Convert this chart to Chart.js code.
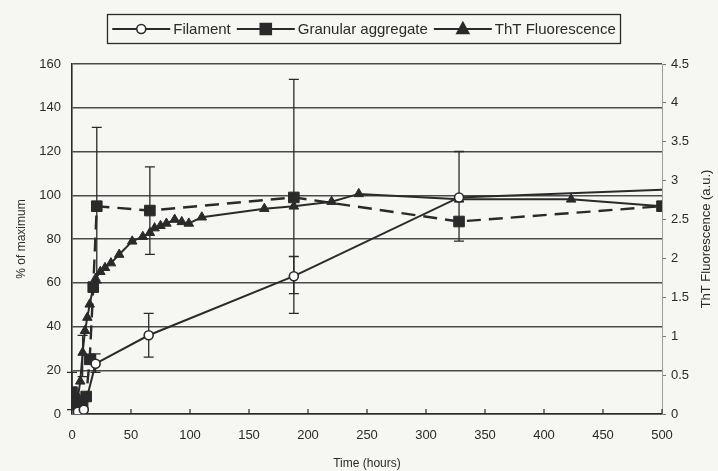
<!DOCTYPE html>
<html>
<head>
<meta charset="utf-8">
<script src="https://cdn.jsdelivr.net/npm/chart.js@4.4.1/dist/chart.umd.min.js"></script>
<style>
  html, body { margin: 0; padding: 0; background: #f6f6f3; }
  #wrap { width: 718px; height: 471px; position: relative; }
</style>
</head>
<body>
<div id="wrap"><canvas id="chart"></canvas></div>
<script>
// Filament (% of maximum)
const filamentHours = [0, 5, 10, 20, 65, 188, 328, 500];
const filamentPct = [0, 1, 2, 23, 36, 63, 99, 102.5];
const filamentErrLow = [null, null, null, 19, 26, 55, null, null];
const filamentErrHigh = [null, null, null, 27.5, 46, 72, null, null];

// Granular aggregate (% of maximum)
const granularHours = [0, 3, 6, 9, 12, 15, 18, 21, 66, 188, 328, 500];
const granularPct = [10, 5, 3, 4, 8, 25, 58, 95, 93, 99, 88, 95];
const granularErrLow = [2, null, null, null, null, null, null, 60, 73, 46, 79, null];
const granularErrHigh = [19, null, null, null, null, null, null, 131, 113, 153, 120, null];

// ThT fluorescence (a.u.)
const thtHours = [0, 3, 5, 7, 9, 11, 13, 15, 18, 20, 24, 28, 33, 40, 51, 60, 66, 70, 75, 80, 87, 93, 99, 110, 163, 188, 220, 243, 328, 423, 500];
const thtAU = [0, 0.08, 0.22, 0.42, 0.79, 1.07, 1.24, 1.41, 1.63, 1.74, 1.83, 1.88, 1.94, 2.05, 2.22, 2.28, 2.33, 2.39, 2.42, 2.45, 2.50, 2.47, 2.45, 2.53, 2.64, 2.67, 2.73, 2.83, 2.76, 2.76, 2.67];
const thtErrLow = [null, null, null, null, 0.48];
const thtErrHigh = [null, null, null, null, 1.01];

const xTicks = [0, 50, 100, 150, 200, 250, 300, 350, 400, 450, 500];

const ink = '#2a2a2a';
const font = "'Liberation Sans', Arial, sans-serif";

function points(xs, ys) {
  return xs.map((x, i) => ({ x: x, y: ys[i] }));
}

// vertical error bars, placed through the dataset's own scales
const errorBars = {
  id: 'errorBars',
  beforeDatasetsDraw(chart) {
    const ctx = chart.ctx;
    ctx.save();
    ctx.strokeStyle = ink;
    ctx.lineWidth = 1.3;
    chart.data.datasets.forEach(ds => {
      if (!ds.errLow) return;
      const xs = chart.scales.x;
      const ys = chart.scales[ds.yAxisID];
      ds.data.forEach((p, j) => {
        if (ds.errLow[j] == null) return;
        const x = xs.getPixelForValue(p.x);
        const lo = ys.getPixelForValue(ds.errLow[j]);
        const hi = ys.getPixelForValue(ds.errHigh[j]);
        ctx.beginPath();
        ctx.moveTo(x, lo); ctx.lineTo(x, hi);
        ctx.moveTo(x - 5, lo); ctx.lineTo(x + 5, lo);
        ctx.moveTo(x - 5, hi); ctx.lineTo(x + 5, hi);
        ctx.stroke();
      });
    });
    ctx.restore();
  }
};

function drawMarker(ctx, ds, x, y) {
  ctx.save();
  ctx.fillStyle = ds.pointBackgroundColor;
  ctx.strokeStyle = ds.pointBorderColor;
  ctx.lineWidth = 1.6;
  ctx.setLineDash([]);
  ctx.beginPath();
  if (ds.pointStyle === 'circle') {
    ctx.arc(x, y, 4.5, 0, Math.PI * 2);
  } else if (ds.pointStyle === 'rect') {
    ctx.rect(x - 5.5, y - 5.5, 11, 11);
  } else {
    ctx.moveTo(x, y - 6.5); ctx.lineTo(x + 6, y + 4.5); ctx.lineTo(x - 6, y + 4.5); ctx.closePath();
  }
  ctx.fill();
  ctx.stroke();
  ctx.restore();
}

// boxed legend on top, inward x ticks, right axis title
const decorations = {
  id: 'decorations',
  afterDraw(chart) {
    const ctx = chart.ctx;
    const area = chart.chartArea;
    ctx.save();

    // inward ticks on the time axis
    const xs = chart.scales.x;
    ctx.strokeStyle = ink;
    ctx.lineWidth = 1.2;
    xTicks.forEach(v => {
      const x = xs.getPixelForValue(v);
      ctx.beginPath(); ctx.moveTo(x, area.bottom); ctx.lineTo(x, area.bottom - 5); ctx.stroke();
    });

    // right axis title
    ctx.fillStyle = ink;
    ctx.font = '13px ' + font;
    ctx.textAlign = 'center';
    ctx.textBaseline = 'middle';
    ctx.translate(706, (area.top + area.bottom) / 2);
    ctx.rotate(-Math.PI / 2);
    ctx.fillText('ThT Fluorescence (a.u.)', 0, 0);
    ctx.restore();

    // legend
    ctx.save();
    ctx.font = '15px ' + font;
    ctx.textBaseline = 'middle';
    ctx.textAlign = 'left';
    const symW = 58, gap = 3, itemGap = 6;
    const items = chart.data.datasets;
    let total = 0;
    items.forEach((ds, i) => {
      total += symW + gap + ctx.measureText(ds.label).width + (i < items.length - 1 ? itemGap : 0);
    });
    const cy = 29;
    let x = 364 - total / 2;
    ctx.strokeStyle = ink;
    ctx.lineWidth = 1.3;
    ctx.strokeRect(Math.round(x - 5) + 0.5, 14.5, Math.round(total + 10), 29);
    items.forEach(ds => {
      ctx.strokeStyle = ink;
      ctx.lineWidth = 2;
      ctx.beginPath(); ctx.moveTo(x, cy); ctx.lineTo(x + symW, cy); ctx.stroke();
      drawMarker(ctx, ds, x + symW / 2, cy);
      x += symW + gap;
      ctx.fillStyle = ink;
      ctx.fillText(ds.label, x, cy + 1);
      x += ctx.measureText(ds.label).width + itemGap;
    });
    ctx.restore();
  }
};

new Chart(document.getElementById('chart'), {
  type: 'line',
  data: {
    datasets: [
      {
        label: 'Filament',
        data: points(filamentHours, filamentPct),
        yAxisID: 'y',
        borderColor: ink,
        borderWidth: 2,
        pointStyle: 'circle',
        pointRadius: filamentHours.map(h => (h === 500 ? 0 : 4.5)),
        pointBackgroundColor: '#ffffff',
        pointBorderColor: ink,
        pointBorderWidth: 1.6,
        errLow: filamentErrLow,
        errHigh: filamentErrHigh
      },
      {
        label: 'Granular aggregate',
        data: points(granularHours, granularPct),
        yAxisID: 'y',
        borderColor: ink,
        borderWidth: 2.4,
        borderDash: [14, 8],
        pointStyle: 'rect',
        pointRadius: 7.5,
        pointBackgroundColor: ink,
        pointBorderColor: ink,
        pointBorderWidth: 1,
        errLow: granularErrLow,
        errHigh: granularErrHigh
      },
      {
        label: 'ThT Fluorescence',
        data: points(thtHours, thtAU),
        yAxisID: 'y1',
        borderColor: ink,
        borderWidth: 2,
        pointStyle: 'triangle',
        pointRadius: 5.5,
        pointBackgroundColor: ink,
        pointBorderColor: ink,
        pointBorderWidth: 1,
        errLow: thtErrLow,
        errHigh: thtErrHigh
      }
    ]
  },
  options: {
    responsive: true,
    maintainAspectRatio: false,
    animation: false,
    layout: { padding: { top: 64, left: 0, right: 0, bottom: 0 } },
    plugins: {
      legend: { display: false },
      tooltip: { enabled: false }
    },
    scales: {
      x: {
        type: 'linear',
        min: 0,
        max: 500,
        afterFit: s => { s.height = 57; },
        afterBuildTicks: s => { s.ticks = xTicks.map(v => ({ value: v })); },
        grid: { display: false, drawTicks: false },
        border: { color: ink, width: 1.6 },
        ticks: { color: ink, padding: 14, font: { family: font, size: 13 } },
        title: {
          display: true,
          text: 'Time (hours)',
          color: ink,
          padding: { top: 0, bottom: 0 },
          font: { family: font, size: 12 }
        }
      },
      y: {
        position: 'left',
        min: 0,
        max: 160,
        afterFit: s => { s.width = 72; },
        grid: { color: '#4a4a4a', lineWidth: 1.4, drawTicks: false },
        border: { color: ink, width: 1.6 },
        ticks: { stepSize: 20, color: ink, padding: 11, font: { family: font, size: 13 } },
        title: {
          display: true,
          text: '% of maximum',
          color: ink,
          padding: { top: 14, bottom: 0 },
          font: { family: font, size: 12 }
        }
      },
      y1: {
        position: 'right',
        min: 0,
        max: 4.5,
        afterFit: s => { s.width = 56; },
        grid: { drawOnChartArea: false, drawTicks: true, tickLength: 4, color: '#777' },
        border: { color: '#9a9a9a', width: 1 },
        ticks: {
          stepSize: 0.5,
          color: ink,
          padding: 5,
          font: { family: font, size: 13 },
          callback: v => String(v)
        }
      }
    }
  },
  plugins: [errorBars, decorations]
});
</script>
</body>
</html>
